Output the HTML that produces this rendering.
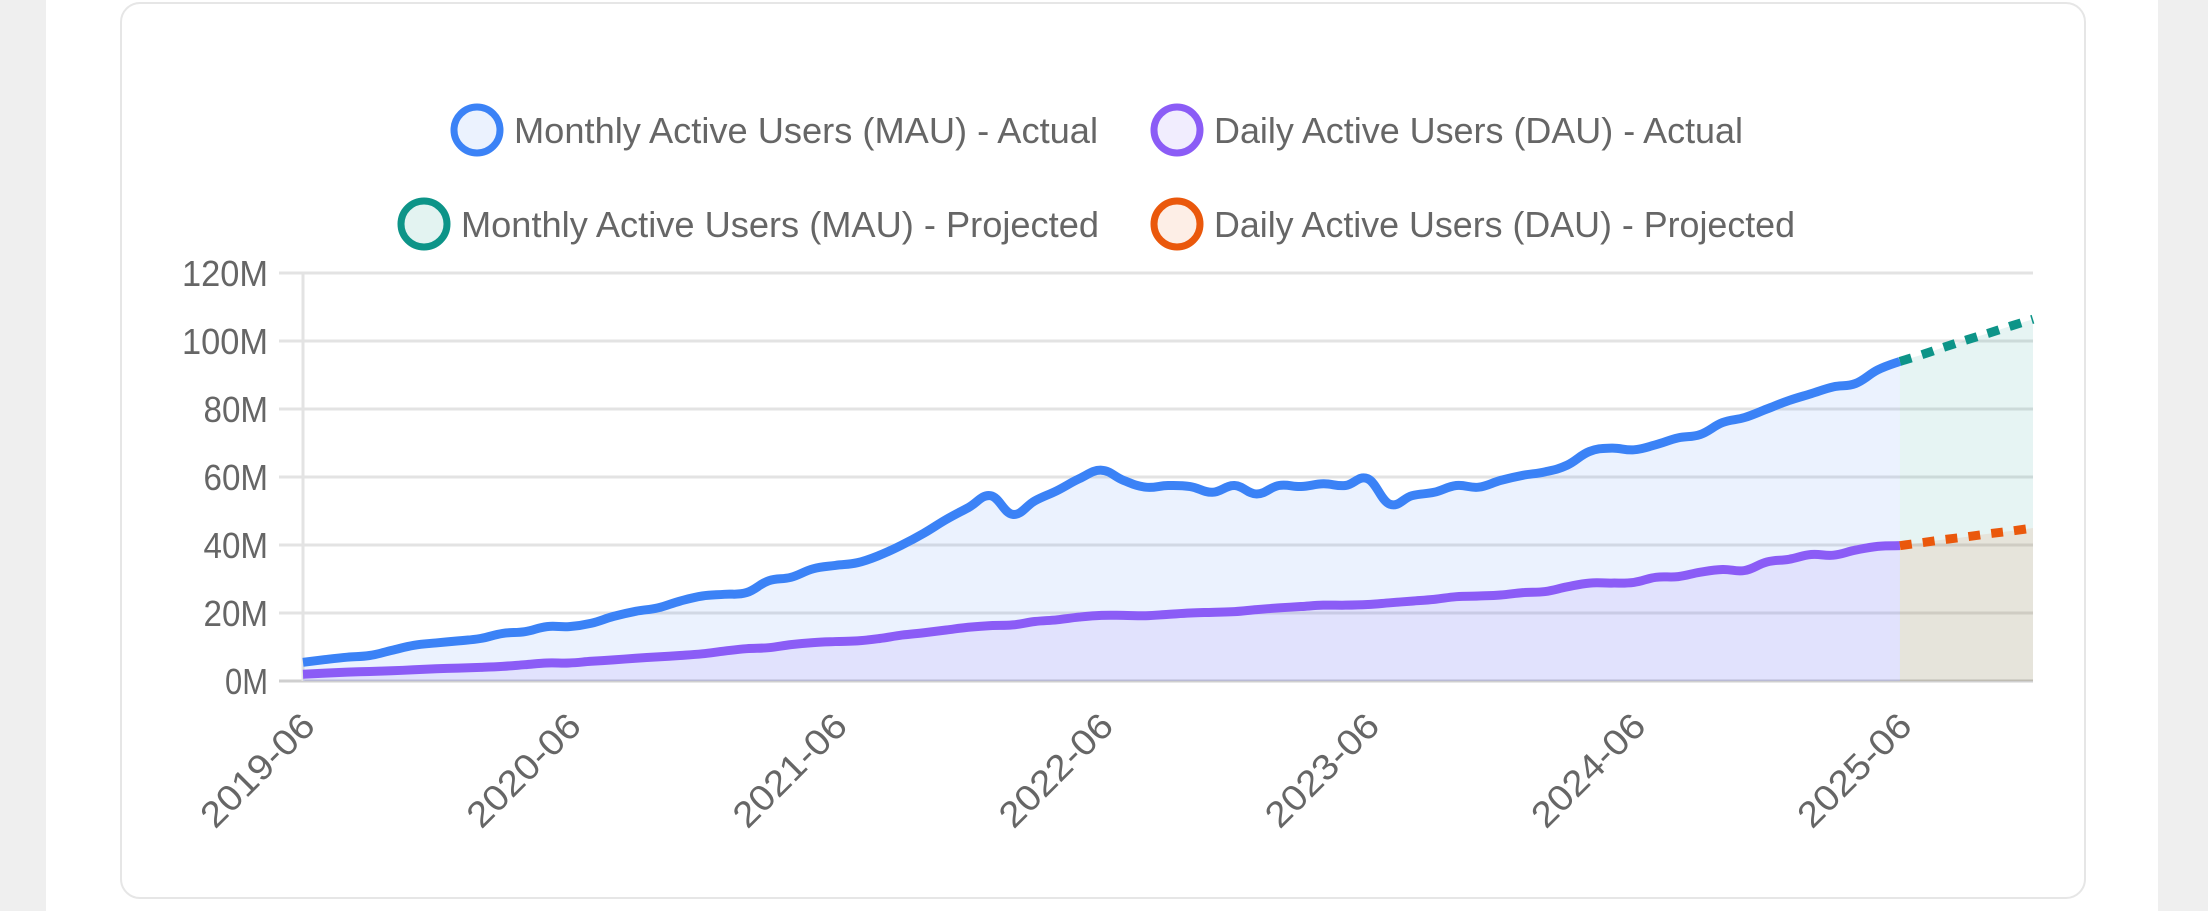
<!DOCTYPE html>
<html><head><meta charset="utf-8"><style>
html,body{margin:0;padding:0;width:2208px;height:911px;overflow:hidden;background:#fff;font-family:"Liberation Sans",sans-serif}
#bg{position:absolute;left:0;top:0;width:2208px;height:911px;background:#fff}
.side{position:absolute;top:0;height:911px;background:#efefef}
#card{position:absolute;left:120px;top:2px;width:1962px;height:893px;border:2px solid #e6e6e6;border-radius:20px;background:#fff}
svg{position:absolute;left:0;top:0}
</style></head><body>
<div id="bg"></div>
<div class="side" style="left:0;width:46px"></div>
<div class="side" style="left:2158px;width:50px"></div>
<div id="card"></div>
<svg id="chart" width="2208" height="911"></svg>
<script>
const mauActual=[5.5,6.3,7,7.5,9,10.5,11.2,11.8,12.5,14,14.5,16,16,17,19,20.5,21.5,23.5,25,25.5,26,29.5,30.5,33,34,34.8,37,40,43.5,47.5,51,54.5,49,53,56,59.5,62,59,57,57.5,57.2,55.5,57.5,55,57.5,57.2,58,57.5,59.5,52,54.5,55.5,57.5,57,59,60.5,61.5,63.5,67.5,68.5,68,69.5,71.5,72.5,76,77.5,80,82.5,84.5,86.5,87.5,91.5,94];
const dauActual=[2,2.3,2.6,2.8,3,3.3,3.6,3.8,4,4.3,4.8,5.3,5.3,5.8,6.2,6.7,7.1,7.5,8,8.8,9.5,9.8,10.7,11.3,11.6,11.8,12.5,13.5,14.2,15,15.8,16.3,16.5,17.5,18,18.8,19.3,19.3,19.2,19.6,20,20.2,20.4,21,21.5,21.9,22.3,22.3,22.5,23,23.5,24,24.8,25,25.3,26,26.3,27.7,28.8,28.8,29,30.5,30.7,32,32.8,32.5,35,35.8,37.2,37,38.5,39.6,39.8];
const mauProjected=[94,96,98.2,100.3,102.3,104.4,106.4];
const dauProjected=[39.8,40.7,41.6,42.4,43.3,44.1,45];
const yTicks=[0,20,40,60,80,100,120];
const xTickLabels=["2019-06","2020-06","2021-06","2022-06","2023-06","2024-06","2025-06"];
const totalMonths=78;

const NS="http://www.w3.org/2000/svg";
const svg=document.getElementById('chart');
const X0=303,X1=2033,Y0=681,Y120=273;
const xs=i=>X0+(X1-X0)*i/totalMonths;
const ys=v=>Y0-(Y0-Y120)*v/120;
function mk(tag,attrs,parent){const e=document.createElementNS(NS,tag);for(const k in attrs)e.setAttribute(k,attrs[k]);(parent||svg).appendChild(e);return e;}
function smooth(pts){let d="M"+pts[0][0]+","+pts[0][1];for(let i=0;i<pts.length-1;i++){const p0=pts[Math.max(0,i-1)],p1=pts[i],p2=pts[i+1],p3=pts[Math.min(pts.length-1,i+2)];const t=0.2;d+=" C"+(p1[0]+(p2[0]-p0[0])*t)+","+(p1[1]+(p2[1]-p0[1])*t)+" "+(p2[0]-(p3[0]-p1[0])*t)+","+(p2[1]-(p3[1]-p1[1])*t)+" "+p2[0]+","+p2[1];}return d;}

yTicks.forEach(v=>{
  const g=mk('line',{x1:279,x2:X1,y1:ys(v),y2:ys(v),stroke:v===0?'#cfcfcf':'#e3e3e3','stroke-width':3});
  
  
  const s=String(v)+'M';
  const t=mk('text',{x:268,y:ys(v)+13,'text-anchor':'end','font-size':36,fill:'#666',textLength:s.length*21.5,lengthAdjust:'spacingAndGlyphs'});
  t.textContent=s;
  
  
});
const ax=mk('line',{x1:X0,x2:X0,y1:Y120,y2:Y0,stroke:'#e3e3e3','stroke-width':3});



const off=mauActual.length-1;
function area(vals,start,fill,name){
  const pts=vals.map((v,i)=>[xs(i+start),ys(v)]);
  const d=smooth(pts)+" L"+pts[pts.length-1][0]+","+Y0+" L"+pts[0][0]+","+Y0+" Z";
  const p=mk('path',{d:d,fill:fill,stroke:'none'});
  
  
}
area(mauActual,0,'rgba(59,130,246,0.1)','mau-actual-area');
area(dauActual,0,'rgba(139,92,246,0.1)','dau-actual-area');
area(mauProjected,off,'rgba(13,148,136,0.1)','mau-projected-area');
area(dauProjected,off,'rgba(234,88,12,0.1)','dau-projected-area');

function line(vals,start,color,dash,name){
  const pts=vals.map((v,i)=>[xs(i+start),ys(v)]);
  const a={d:smooth(pts),fill:'none',stroke:color,'stroke-width':9,'stroke-linejoin':'round'};
  if(dash)a['stroke-dasharray']=dash;
  const p=mk('path',a);
  
  
}
line(dauActual,0,'#8b5cf6',null,'dau-actual-line');
line(mauActual,0,'#3b82f6',null,'mau-actual-line');
line(mauProjected,off,'#0d9488','12 11','mau-projected-line');
line(dauProjected,off,'#ea580c','12 11','dau-projected-line');

xTickLabels.forEach((l,i)=>{
  const x=xs(i*12);
  const t=mk('text',{x:x+14,y:728,'text-anchor':'end','font-size':36,fill:'#666',textLength:144,lengthAdjust:'spacingAndGlyphs',transform:'rotate(-45 '+(x+14)+' 728)'});
  t.textContent=l;
  
  
});

const legendLabels=["Monthly Active Users (MAU) - Actual","Daily Active Users (DAU) - Actual","Monthly Active Users (MAU) - Projected","Daily Active Users (DAU) - Projected"];
const legendStroke=['#3b82f6','#8b5cf6','#0d9488','#ea580c'];
const legendFill=['#ebf2fe','#f1edfe','#e3f3f1','#fdeee6'];
const lx=[477,1177,424,1177],ly=[130,130,224,224],lw=[584,529,638,581];
legendLabels.forEach((l,i)=>{
  const c=mk('circle',{cx:lx[i],cy:ly[i],r:23,fill:legendFill[i],stroke:legendStroke[i],'stroke-width':7});
  
  
  const t=mk('text',{x:lx[i]+37,y:ly[i]+13,'font-size':36,fill:'#666',textLength:lw[i],lengthAdjust:'spacingAndGlyphs'});
  t.textContent=l;
  
  
});
</script>
</body></html>
